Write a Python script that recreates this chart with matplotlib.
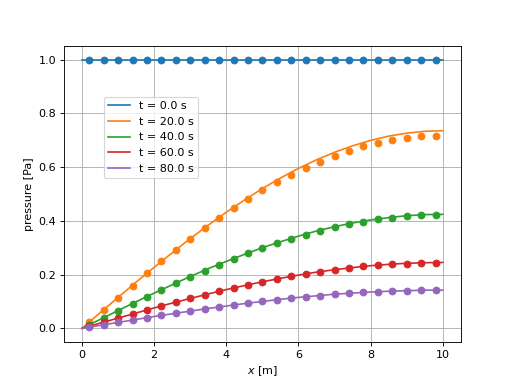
import matplotlib
matplotlib.use("Agg")
import matplotlib.pyplot as plt

# times shown in the legend
times = [0.0, 20.0, 40.0, 60.0, 80.0]

# analytic curves
x_line = [0.0, 0.5, 1.0, 1.5, 2.0, 2.5, 3.0, 3.5, 4.0, 4.5, 5.0,
          5.5, 6.0, 6.5, 7.0, 7.5, 8.0, 8.5, 9.0, 9.5, 10.0]
p_line_0 = [1.0] * 21
p_line_20 = [0.0, 0.058, 0.115, 0.172, 0.227, 0.281, 0.334, 0.384, 0.432, 0.477, 0.520,
             0.559, 0.595, 0.627, 0.655, 0.679, 0.699, 0.715, 0.726, 0.733, 0.735]
p_line_40 = [0.0, 0.033, 0.066, 0.099, 0.131, 0.162, 0.193, 0.222, 0.249, 0.275, 0.300,
             0.322, 0.343, 0.362, 0.378, 0.392, 0.403, 0.412, 0.419, 0.423, 0.424]
p_line_60 = [0.0, 0.019, 0.038, 0.057, 0.076, 0.094, 0.111, 0.128, 0.144, 0.159, 0.173,
             0.186, 0.198, 0.209, 0.218, 0.226, 0.233, 0.238, 0.242, 0.244, 0.245]
p_line_80 = [0.0, 0.011, 0.022, 0.033, 0.044, 0.054, 0.064, 0.074, 0.083, 0.092, 0.100,
             0.108, 0.115, 0.121, 0.127, 0.131, 0.135, 0.138, 0.140, 0.142, 0.142]

# numerical solution (cell centres)
x_num = [0.2, 0.6, 1.0, 1.4, 1.8, 2.2, 2.6, 3.0, 3.4, 3.8, 4.2, 4.6, 5.0,
         5.4, 5.8, 6.2, 6.6, 7.0, 7.4, 7.8, 8.2, 8.6, 9.0, 9.4, 9.8]
p_num_0 = [1.0] * 25
p_num_20 = [0.023, 0.068, 0.114, 0.159, 0.204, 0.249, 0.291, 0.332, 0.373, 0.410, 0.446, 0.481, 0.513,
            0.544, 0.570, 0.596, 0.620, 0.641, 0.660, 0.678, 0.690, 0.701, 0.709, 0.714, 0.717]
p_num_40 = [0.013, 0.040, 0.066, 0.092, 0.118, 0.143, 0.168, 0.192, 0.215, 0.237, 0.259, 0.279, 0.298,
            0.317, 0.333, 0.349, 0.363, 0.376, 0.387, 0.397, 0.405, 0.412, 0.417, 0.420, 0.422]
p_num_60 = [0.008, 0.023, 0.038, 0.053, 0.068, 0.083, 0.097, 0.111, 0.124, 0.137, 0.150, 0.161, 0.173,
            0.183, 0.193, 0.202, 0.210, 0.217, 0.224, 0.230, 0.234, 0.238, 0.241, 0.243, 0.244]
p_num_80 = [0.004, 0.013, 0.022, 0.031, 0.040, 0.048, 0.056, 0.064, 0.072, 0.080, 0.087, 0.094, 0.100,
            0.107, 0.112, 0.117, 0.122, 0.127, 0.130, 0.134, 0.136, 0.139, 0.140, 0.141, 0.142]

lines = [p_line_0, p_line_20, p_line_40, p_line_60, p_line_80]
nums = [p_num_0, p_num_20, p_num_40, p_num_60, p_num_80]

fig, ax = plt.subplots(figsize=(6.4, 4.8), dpi=80)

for i, t in enumerate(times):
    c = f"C{i}"
    ax.plot(x_line, lines[i], color=c, label=f"t = {t:.1f} s")
    ax.plot(x_num, nums[i], "o", color=c)

ax.set_xlabel("$x$ [m]")
ax.set_ylabel("pressure [Pa]")
ax.grid(True)
ax.legend(loc=(0.1, 0.554))

fig.savefig("out.png", dpi=80)
